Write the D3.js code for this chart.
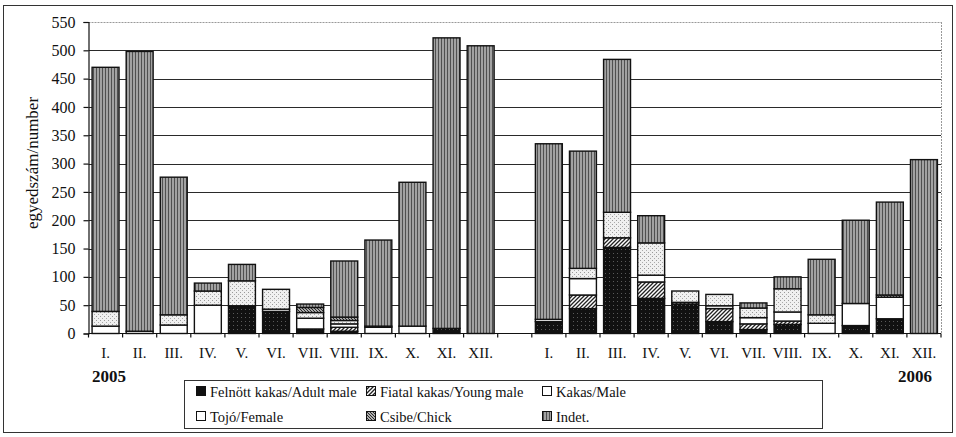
<!DOCTYPE html>
<html>
<head>
<meta charset="utf-8">
<script src="https://cdn.jsdelivr.net/npm/d3@7"></script>
<style>
  html, body { margin: 0; padding: 0; background: #fff; }
  svg { display: block; }
  svg text { font-family: "Liberation Serif", "Times New Roman", serif; }
</style>
</head>
<body>
<svg id="chart" width="956" height="437"></svg>
<script>
// Months of the year (Roman numerals), repeated for both years
const months = ["I.", "II.", "III.", "IV.", "V.", "VI.", "VII.", "VIII.", "IX.", "X.", "XI.", "XII."];
const years = ["2005", "2006"];

// Monthly counts, 2005 Jan..Dec followed by 2006 Jan..Dec
const adultMale = [0, 0, 0, 0, 49, 39, 8, 4, 0, 0, 9, 0,   21, 44, 152, 62, 52, 21, 7, 16, 0, 14, 26, 0];
const youngMale = [0, 0, 0, 0, 0, 0, 0, 7, 0, 0, 0, 0,     0, 24, 17, 29, 3, 23, 10, 6, 0, 0, 0, 0];
const male      = [13, 4, 15, 50, 0, 4, 19, 6, 11, 13, 0, 0, 4, 29, 0, 12, 0, 5, 11, 16, 18, 39, 38, 0];
const female    = [26, 0, 18, 25, 44, 35, 10, 6, 0, 0, 0, 0, 0, 18, 45, 57, 20, 20, 17, 41, 15, 0, 0, 0];
const chick     = [0, 0, 0, 0, 0, 0, 9, 6, 2, 0, 0, 0,     0, 0, 0, 0, 0, 0, 0, 0, 0, 0, 4, 0];
const indet     = [431, 494, 243, 14, 29, 0, 6, 99, 152, 254, 513, 508,
                   310, 207, 270, 48, 0, 0, 9, 21, 98, 147, 164, 307];

const seriesNames = ["Felnött kakas/Adult male", "Fiatal kakas/Young male", "Kakas/Male",
                     "Tojó/Female", "Csibe/Chick", "Indet."];
const seriesKeys = ["adult", "young", "male", "female", "chick", "indet"];
const yTicks = [0, 50, 100, 150, 200, 250, 300, 350, 400, 450, 500, 550];

const FONT = "Liberation Serif, Times New Roman, serif";

// Build the table: one row per month, with an empty slot between the two years
const rows = [];
years.forEach((yr, yi) => {
  months.forEach((m, mi) => {
    const i = yi * 12 + mi;
    rows.push({ key: yr + "-" + m, label: m,
      adult: adultMale[i], young: youngMale[i], male: male[i],
      female: female[i], chick: chick[i], indet: indet[i] });
  });
});
const slots = rows.slice(0, 12).map(d => d.key)
  .concat(["gap"])
  .concat(rows.slice(12).map(d => d.key));

const svg = d3.select("#chart");
const margin = { left: 88.5, right: 941, top: 22, bottom: 333.5 };

const x = d3.scaleBand().domain(slots).range([margin.left, margin.right])
  .paddingInner(0.21).paddingOuter(0.105);
const y = d3.scaleLinear().domain([0, 550]).range([margin.bottom, margin.top]);

// Fill patterns
const defs = svg.append("defs");

const pAdult = defs.append("pattern").attr("id", "p-adult").attr("patternUnits", "userSpaceOnUse")
  .attr("width", 4).attr("height", 4);
pAdult.append("rect").attr("width", 4).attr("height", 4).attr("fill", "#111");
pAdult.append("rect").attr("x", 1).attr("y", 1).attr("width", 1).attr("height", 1).attr("fill", "#5a5a5a");

const pYoung = defs.append("pattern").attr("id", "p-young").attr("patternUnits", "userSpaceOnUse")
  .attr("width", 4).attr("height", 4);
pYoung.append("rect").attr("width", 4).attr("height", 4).attr("fill", "#fff");
pYoung.append("path").attr("d", "M-1,5 L5,-1 M-1,1 L1,-1 M3,5 L5,3")
  .attr("stroke", "#222").attr("stroke-width", 1.3);

const pFemale = defs.append("pattern").attr("id", "p-female").attr("patternUnits", "userSpaceOnUse")
  .attr("width", 4).attr("height", 4);
pFemale.append("rect").attr("width", 4).attr("height", 4).attr("fill", "#f0f0f0");
pFemale.append("rect").attr("x", 0).attr("y", 0).attr("width", 1).attr("height", 1).attr("fill", "#999");
pFemale.append("rect").attr("x", 2).attr("y", 2).attr("width", 1).attr("height", 1).attr("fill", "#aaa");

const pChick = defs.append("pattern").attr("id", "p-chick").attr("patternUnits", "userSpaceOnUse")
  .attr("width", 3).attr("height", 3);
pChick.append("rect").attr("width", 3).attr("height", 3).attr("fill", "#eee");
pChick.append("path").attr("d", "M-1,-1 L4,4 M2,-1 L4,1 M-1,2 L1,4")
  .attr("stroke", "#222").attr("stroke-width", 1.2);

const pIndet = defs.append("pattern").attr("id", "p-indet").attr("patternUnits", "userSpaceOnUse")
  .attr("width", 3).attr("height", 3);
pIndet.append("rect").attr("width", 3).attr("height", 3).attr("fill", "#a2a2a2");
pIndet.append("rect").attr("x", 0).attr("width", 1).attr("height", 3).attr("fill", "#505050");

const fills = {
  adult: "url(#p-adult)", young: "url(#p-young)", male: "#fff",
  female: "url(#p-female)", chick: "url(#p-chick)", indet: "url(#p-indet)"
};
const legendFills = {
  adult: "#111", young: "url(#p-young)", male: "#fff",
  female: "#fff", chick: "url(#p-chick)", indet: "url(#p-indet)"
};

// Outer frame
svg.append("rect").attr("x", 3.5).attr("y", 5.5).attr("width", 949).attr("height", 427)
  .attr("fill", "none").attr("stroke", "#333").attr("stroke-width", 1);

// Gridlines
svg.append("g").selectAll("line").data(yTicks.filter(t => t > 0)).join("line")
  .attr("x1", margin.left).attr("x2", margin.right)
  .attr("y1", d => Math.round(y(d)) + 0.5).attr("y2", d => Math.round(y(d)) + 0.5)
  .attr("stroke", d => d === 550 ? "#999" : "#2a2a2a")
  .attr("stroke-dasharray", d => d === 550 ? "2,1" : null)
  .attr("stroke-width", 1);

// Right border of plot area
svg.append("line").attr("x1", margin.right + 0.5).attr("x2", margin.right + 0.5)
  .attr("y1", margin.top).attr("y2", margin.bottom)
  .attr("stroke", "#999").attr("stroke-dasharray", "2,1");

// Stacked bars
const stacked = d3.stack().keys(seriesKeys)(rows);
const gBars = svg.append("g");
stacked.forEach(layer => {
  gBars.append("g").selectAll("rect")
    .data(layer.filter(d => d[1] - d[0] > 0))
    .join("rect")
    .attr("x", d => x(d.data.key))
    .attr("width", x.bandwidth())
    .attr("y", d => y(d[1]))
    .attr("height", d => y(d[0]) - y(d[1]))
    .attr("fill", fills[layer.key])
    .attr("stroke", "#111")
    .attr("stroke-width", 1.4);
});

// Y axis
const yAxis = d3.axisLeft(y).tickValues(yTicks).tickSize(5).tickPadding(8);
const gy = svg.append("g").attr("transform", `translate(${margin.left},0)`).call(yAxis)
  .attr("font-family", FONT);
gy.select(".domain").attr("stroke", "#111").attr("stroke-width", 1.2);
gy.selectAll(".tick line").attr("stroke", "#111").attr("stroke-width", 1.2);
gy.selectAll(".tick text").attr("font-size", 16).attr("fill", "#111");

// X axis: ticks between slots, labels under bars
const gx = svg.append("g").attr("transform", `translate(0,${margin.bottom})`);
gx.append("line").attr("x1", margin.left).attr("x2", margin.right)
  .attr("stroke", "#111").attr("stroke-width", 1.2);
const boundaries = d3.range(slots.length + 1).map(i => margin.left + i * x.step());
gx.selectAll("line.tk").data(boundaries).join("line").attr("class", "tk")
  .attr("x1", d => d).attr("x2", d => d).attr("y1", 0).attr("y2", 4)
  .attr("stroke", "#111").attr("stroke-width", 1.2);
gx.selectAll("text").data(rows).join("text")
  .attr("x", d => x(d.key) + x.bandwidth() / 2)
  .attr("y", 24)
  .attr("text-anchor", "middle")
  .attr("font-family", FONT)
  .attr("font-size", 15)
  .attr("fill", "#111")
  .text(d => d.label);

// Y axis title
svg.append("text")
  .attr("transform", "translate(38,163) rotate(-90)")
  .attr("text-anchor", "middle")
  .attr("font-family", FONT)
  .attr("font-size", 17)
  .attr("fill", "#111")
  .text("egyedszám/number");

// Year labels
svg.append("text").attr("x", 92).attr("y", 382).attr("font-size", 17)
  .attr("font-family", FONT)
  .attr("font-weight", "bold").attr("fill", "#111").text(years[0]);
svg.append("text").attr("x", 932).attr("y", 382).attr("font-size", 17)
  .attr("font-family", FONT)
  .attr("text-anchor", "end")
  .attr("font-weight", "bold").attr("fill", "#111").text(years[1]);

// Legend
const lg = svg.append("g");
lg.append("rect").attr("x", 184.5).attr("y", 380.5).attr("width", 638).attr("height", 48)
  .attr("fill", "#fff").attr("stroke", "#333").attr("stroke-width", 1);
const colX = [197, 367, 543];
const rowY = [392, 417];
seriesKeys.forEach((k, i) => {
  const cx = colX[i % 3], cy = rowY[Math.floor(i / 3)];
  lg.append("rect").attr("x", cx - 0.5).attr("y", cy - 5.5).attr("width", 9).attr("height", 9)
    .attr("fill", legendFills[k]).attr("stroke", "#111").attr("stroke-width", 1);
  lg.append("text").attr("x", cx + 13).attr("y", cy + 5)
    .attr("font-family", FONT).attr("font-size", 14.5)
    .attr("fill", "#111").text(seriesNames[i]);
});
</script>
</body>
</html>
